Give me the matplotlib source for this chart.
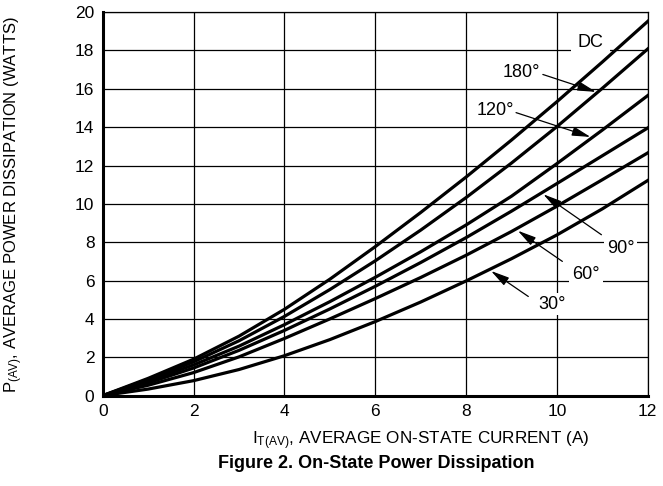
import matplotlib
matplotlib.use("Agg")
import matplotlib.pyplot as plt

plt.rcParams['font.family'] = ['Liberation Sans', 'DejaVu Sans']
plt.rcParams['mathtext.fontset'] = 'custom'
plt.rcParams['mathtext.rm'] = 'Liberation Sans'
plt.rcParams['mathtext.it'] = 'Liberation Sans:italic'

# current (A)
current = [0, 1, 2, 3, 4, 5, 6, 7, 8, 9, 10, 11, 12]

# power dissipation (W) per conduction angle
p_dc = [0, 0.9, 1.9, 3.1, 4.5, 6.07, 7.77, 9.55, 11.4, 13.33, 15.33, 17.4, 19.52]
p_180 = [0, 0.84, 1.76, 2.86, 4.13, 5.53, 7.03, 8.63, 10.33, 12.13, 14.03, 16.03, 18.08]
p_120 = [0, 0.76, 1.6, 2.58, 3.7, 4.9, 6.17, 7.5, 8.9, 10.4, 12.1, 13.85, 15.65]
p_90 = [0, 0.66, 1.44, 2.36, 3.4, 4.52, 5.7, 6.94, 8.24, 9.62, 11.06, 12.51, 13.96]
p_60 = [0, 0.54, 1.2, 2.02, 2.98, 4.0, 5.06, 6.16, 7.32, 8.56, 9.88, 11.26, 12.66]
p_30 = [0, 0.34, 0.78, 1.36, 2.08, 2.92, 3.86, 4.88, 5.98, 7.14, 8.38, 9.74, 11.22]

series = [p_dc, p_180, p_120, p_90, p_60, p_30]

x_ticks = [0, 2, 4, 6, 8, 10, 12]
y_ticks = [0, 2, 4, 6, 8, 10, 12, 14, 16, 18, 20]

fig = plt.figure(figsize=(6.63, 4.86), dpi=100)
ax = fig.add_axes([0.155, 0.186, 0.822, 0.789])

for p in series:
    ax.plot(current, p, color='black', lw=2.3, solid_joinstyle='round', zorder=3)

ax.set_xlim(0, 12)
ax.set_ylim(0, 20)
ax.set_xticks(x_ticks)
ax.set_yticks(y_ticks)
ax.tick_params(length=0, labelsize=12.5, pad=6)
ax.grid(True, color='black', lw=0.9, zorder=1)
ax.set_axisbelow(True)
for side in ['top', 'right']:
    ax.spines[side].set_linewidth(0.9)
for side in ['left', 'bottom']:
    ax.spines[side].set_linewidth(2.2)

box = dict(facecolor='white', edgecolor='none', pad=2)
arrow = dict(arrowstyle='-|>,head_length=0.8,head_width=0.2', color='black', lw=0.9,
             mutation_scale=14, shrinkA=0, shrinkB=0)
fs = 13

ax.text(10.74, 18.42, 'DC', fontsize=fs, ha='center', va='center',
        bbox=dict(facecolor='white', edgecolor='none', pad=5), zorder=2)
ax.text(9.22, 16.87, '180°', fontsize=fs, ha='center', va='center', zorder=2)
ax.annotate('', xy=(10.86, 15.84), xytext=(9.69, 16.75), arrowprops=arrow, zorder=4)
ax.text(8.65, 14.85, '120°', fontsize=fs, ha='center', va='center', zorder=2)
ax.annotate('', xy=(10.74, 13.49), xytext=(9.1, 14.76), arrowprops=arrow, zorder=4)
ax.text(11.41, 7.69, '90°', fontsize=fs, ha='center', va='center', bbox=box, zorder=2)
ax.annotate('', xy=(9.7, 10.5), xytext=(10.98, 8.39), arrowprops=arrow, zorder=4)
ax.text(10.64, 6.3, '60°', fontsize=fs, ha='center', va='center', bbox=box, zorder=2)
ax.annotate('', xy=(9.14, 8.6), xytext=(10.12, 7.0), arrowprops=arrow, zorder=4)
ax.text(9.9, 4.77, '30°', fontsize=fs, ha='center', va='center', bbox=box, zorder=2)
ax.annotate('', xy=(8.55, 6.5), xytext=(9.37, 5.17), arrowprops=arrow, zorder=4)

fig.text(0.021, 0.578, r'P$_{\mathrm{(AV)}}$, AVERAGE POWER DISSIPATION (WATTS)',
         rotation=90, fontsize=12, ha='center', va='center')
fig.text(0.634, 0.094, r'I$_{\mathrm{T(AV)}}$, AVERAGE ON-STATE CURRENT (A)',
         fontsize=12.3, ha='center', va='center')
fig.text(0.567, 0.046, 'Figure 2. On-State Power Dissipation',
         fontsize=13, fontweight='bold', ha='center', va='center')

fig.savefig('out.png', dpi=100)
